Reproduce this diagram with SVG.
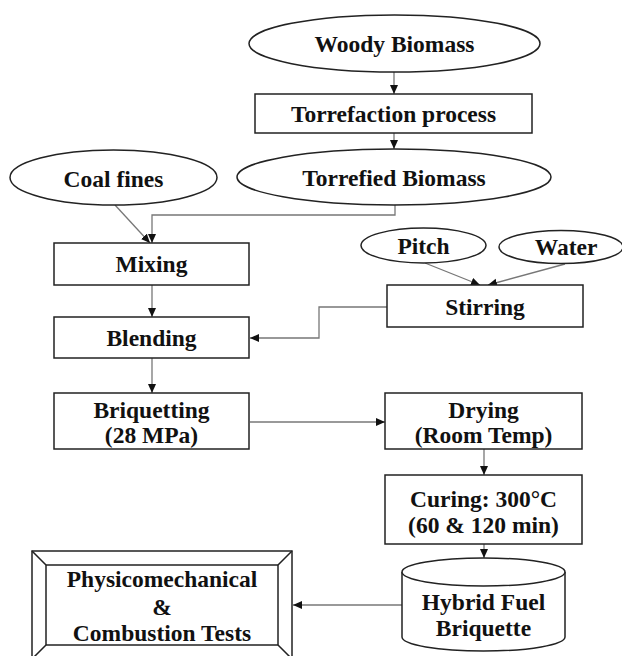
<svg xmlns="http://www.w3.org/2000/svg" width="622" height="656" viewBox="0 0 622 656">
<defs>
<style>
.n{fill:#fff;stroke:#222;stroke-width:1.5}
.t{font-family:"Liberation Serif","Times New Roman",serif;font-weight:bold;font-size:23.5px;fill:#111;text-anchor:middle}
.c{fill:none;stroke:#777;stroke-width:1.3}
</style>
<marker id="ah" markerUnits="userSpaceOnUse" markerWidth="10" markerHeight="10" refX="9" refY="4" orient="auto">
<path d="M0,0 L9,4 L0,8 Z" fill="#111"/>
</marker>
</defs>
<rect width="622" height="656" fill="#fff"/>
<g id="connectors">
<path class="c" d="M394,72 V94" marker-end="url(#ah)"/>
<path class="c" d="M394,133 V149" marker-end="url(#ah)"/>
<path class="c" d="M395,205 V215 H152 V243" marker-end="url(#ah)"/>
<path class="c" d="M115,205 L150,243" marker-end="url(#ah)"/>
<path class="c" d="M152,285 V317" marker-end="url(#ah)"/>
<path class="c" d="M152,358 V393" marker-end="url(#ah)"/>
<path class="c" d="M425,263 L480,285" marker-end="url(#ah)"/>
<path class="c" d="M565,264 L488,285" marker-end="url(#ah)"/>
<path class="c" d="M387,307 H319 V338 H250" marker-end="url(#ah)"/>
<path class="c" d="M250,422 H385" marker-end="url(#ah)"/>
<path class="c" d="M484,449 V475" marker-end="url(#ah)"/>
<path class="c" d="M484,544 V558" marker-end="url(#ah)"/>
<path class="c" d="M402,605 H293" marker-end="url(#ah)"/>
</g>
<g id="woody">
<ellipse class="n" cx="394.5" cy="43.5" rx="145.5" ry="28.5"/>
<text class="t" x="394.5" y="52">Woody Biomass</text>
</g>
<g id="torrefaction">
<rect class="n" x="255" y="94" width="277" height="39"/>
<text class="t" x="393.5" y="122">Torrefaction process</text>
</g>
<g id="torrefied">
<ellipse class="n" cx="394" cy="177" rx="157" ry="28"/>
<text class="t" x="394" y="186">Torrefied Biomass</text>
</g>
<g id="coal">
<ellipse class="n" cx="113.5" cy="177.5" rx="103.5" ry="27.5"/>
<text class="t" x="113.5" y="187">Coal fines</text>
</g>
<g id="mixing">
<rect class="n" x="54" y="243" width="195" height="42"/>
<text class="t" x="151.5" y="272">Mixing</text>
</g>
<g id="blending">
<rect class="n" x="54" y="317" width="195" height="41"/>
<text class="t" x="151.5" y="346">Blending</text>
</g>
<g id="briquetting">
<rect class="n" x="54" y="393" width="195" height="56"/>
<text class="t" x="151.5" y="418">Briquetting</text>
<text class="t" x="151.5" y="443">(28 MPa)</text>
</g>
<g id="pitch">
<ellipse class="n" cx="423.5" cy="245.5" rx="62.5" ry="17.5"/>
<text class="t" x="423.5" y="254">Pitch</text>
</g>
<g id="water">
<ellipse class="n" cx="561" cy="247" rx="62" ry="16.5"/>
<text class="t" x="566" y="255">Water</text>
</g>
<g id="stirring">
<rect class="n" x="387" y="285" width="196" height="42"/>
<text class="t" x="485" y="315">Stirring</text>
</g>
<g id="drying">
<rect class="n" x="385" y="393" width="197" height="56"/>
<text class="t" x="483.5" y="418">Drying</text>
<text class="t" x="483.5" y="443">(Room Temp)</text>
</g>
<g id="curing">
<rect class="n" x="385" y="475" width="197" height="69"/>
<text class="t" x="483.5" y="507">Curing: 300°C</text>
<text class="t" x="483.5" y="533">(60 &amp; 120 min)</text>
</g>
<g id="hybrid">
<path class="n" d="M402,572 A81.5,14 0 0 1 565,572 V637 A81.5,14 0 0 1 402,637 Z"/>
<path class="n" fill="none" d="M402,572 A81.5,14 0 0 0 565,572"/>
<text class="t" x="483.5" y="610">Hybrid Fuel</text>
<text class="t" x="483.5" y="636">Briquette</text>
</g>
<g id="tests">
<rect class="n" x="32" y="551" width="260" height="108"/>
<rect class="n" x="46" y="565" width="232" height="80"/>
<path class="n" fill="none" d="M32,551 L46,565 M292,551 L278,565 M32,659 L46,645 M292,659 L278,645"/>
<text class="t" x="162" y="587">Physicomechanical</text>
<text class="t" x="162" y="615">&amp;</text>
<text class="t" x="162" y="641">Combustion Tests</text>
</g>
</svg>
